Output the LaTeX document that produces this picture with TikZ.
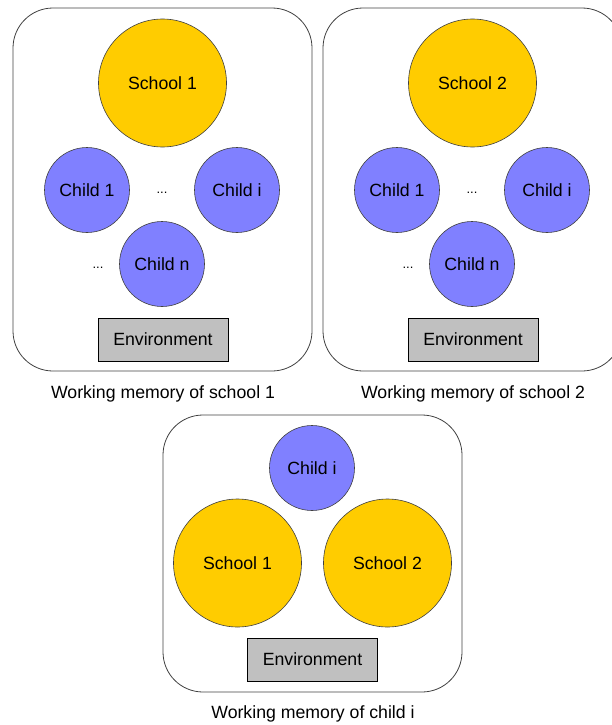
\documentclass[tikz,border=0pt]{standalone}
\usepackage{fontspec}
\setmainfont{Liberation Sans}
\definecolor{schoolyellow}{HTML}{FFCC00}
\definecolor{childblue}{HTML}{8080FF}
\definecolor{envgray}{HTML}{C0C0C0}
\definecolor{edgegray}{HTML}{404040}
\begin{document}
\begin{tikzpicture}[x=1pt,y=-1pt,
  every node/.style={font=\fontsize{17.7}{20}\selectfont, inner sep=0pt},
  panel/.style={draw=edgegray, line width=0.8pt, rounded corners=40pt},
  school/.style={circle, draw=edgegray, line width=0.6pt, fill=schoolyellow, minimum size=128pt},
  child/.style={circle, draw=edgegray, line width=0.6pt, fill=childblue, minimum size=85pt},
  env/.style={draw=black, line width=0.7pt, fill=envgray, minimum width=130pt, minimum height=43pt},
  dots/.style={font=\fontsize{13}{14}\selectfont},
  caption/.style={}
]
\useasboundingbox (0,0) rectangle (612,725);
\begin{scope}
\clip (0,0) rectangle (612,725);
% Panel 1
\draw[panel] (13,8) rectangle (312,371);
\node[school] (s1) at (162.5,83) {School 1};
\node[child] (c11) at (87,190) {Child 1};
\node[child] (c1i) at (237,190) {Child i};
\node[child] (c1n) at (162,264) {Child n};
\node[dots] (d11) at (162,193) {...};
\node[dots] (d12) at (98,268) {...};
\node[env] (e1) at (163,339.5) {Environment};
\node[caption] (cap1) at (163,394) {Working memory of school 1};
% Panel 2
\draw[panel] (323,8) rectangle (622,371);
\node[school] (s2) at (472.5,83) {School 2};
\node[child] (c21) at (397,190) {Child 1};
\node[child] (c2i) at (547,190) {Child i};
\node[child] (c2n) at (472,264) {Child n};
\node[dots] (d21) at (472,193) {...};
\node[dots] (d22) at (408,268) {...};
\node[env] (e2) at (473,339.5) {Environment};
\node[caption] (cap2) at (473,394) {Working memory of school 2};
% Panel 3
\draw[panel] (163,415) rectangle (462,692);
\node[child] (c3i) at (312,468) {Child i};
\node[school] (s31) at (237.5,563) {School 1};
\node[school] (s32) at (387.5,563) {School 2};
\node[env] (e3) at (312.5,659.5) {Environment};
\node[caption] (cap3) at (313,714) {Working memory of child i};
\end{scope}
\end{tikzpicture}
\end{document}
